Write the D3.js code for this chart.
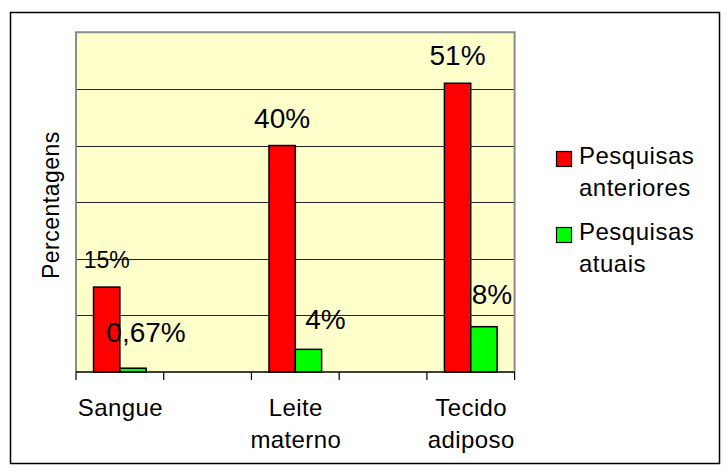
<!DOCTYPE html>
<html>
<head>
<meta charset="utf-8">
<script src="https://cdn.jsdelivr.net/npm/d3@7"></script>
<style>
  body { margin: 0; background: #fff; }
  text { font-family: "Liberation Sans", Arial, sans-serif; fill: #000; }
</style>
</head>
<body>
<svg id="chart" width="727" height="475"></svg>
<script>
// slots along the x axis, the empty ones are just spacers
var categories = ["Sangue", "", "Leite materno", "", "Tecido adiposo"];
var seriesNames = ["Pesquisas anteriores", "Pesquisas atuais"];
var anteriores = [15, null, 40, null, 51];
var atuais = [0.67, null, 4, null, 8];
var anterioresLabels = ["15%", null, "40%", null, "51%"];
var atuaisLabels = ["0,67%", null, "4%", null, "8%"];
var yTicks = [10, 20, 30, 40, 50, 60];

var colors = ["#ff0000", "#00ff00"];

// hand placed labels (as in the original sheet)
var labelStyle = [
    [{size: 23, dx: 0, dy: -19}, null, {size: 28, dx: 0, dy: -18}, null, {size: 28, dx: 0, dy: -18}],
    [{size: 28, dx: 13, dy: -26}, null, {size: 28, dx: 17, dy: -20}, null, {size: 28, dx: 8, dy: -23}]
];

var svg = d3.select("#chart");

var plot = {left: 76, right: 514.6, top: 32.3, bottom: 372};

var x = d3.scaleBand()
    .domain(d3.range(categories.length))
    .range([plot.left, plot.right])
    .padding(0);

var xs = d3.scaleBand()
    .domain([0, 1])
    .range([x.bandwidth() * 0.2, x.bandwidth() * 0.8])
    .padding(0);

var y = d3.scaleLinear().domain([0, 60]).range([plot.bottom, plot.top]);

// outer frame
svg.append("rect")
    .attr("x", 10.5).attr("y", 12.5)
    .attr("width", 709).attr("height", 451)
    .attr("fill", "none")
    .attr("stroke", "#000")
    .attr("stroke-width", 1.5);

// plot background
svg.append("rect")
    .attr("x", plot.left).attr("y", plot.top)
    .attr("width", plot.right - plot.left)
    .attr("height", plot.bottom - plot.top)
    .attr("fill", "#ffffcc");

// grid
svg.append("g")
    .selectAll("line")
    .data(yTicks.filter(function (d) { return d < 60; }))
    .join("line")
    .attr("x1", plot.left).attr("x2", plot.right)
    .attr("y1", function (d) { return Math.round(y(d)) + 0.5; })
    .attr("y2", function (d) { return Math.round(y(d)) + 0.5; })
    .attr("stroke", "#222")
    .attr("stroke-width", 1);

// gray plot border (left, top, right)
svg.append("path")
    .attr("d", "M" + plot.left + "," + plot.bottom + "V" + plot.top + "H" + plot.right + "V" + plot.bottom)
    .attr("fill", "none")
    .attr("stroke", "#8c8c8c")
    .attr("stroke-width", 2);

// bars
var series = [anteriores, atuais];
series.forEach(function (vals, si) {
    svg.append("g")
        .selectAll("rect")
        .data(vals.map(function (v, i) { return {i: i, v: v}; }).filter(function (d) { return d.v !== null; }))
        .join("rect")
        .attr("x", function (d) { return x(d.i) + xs(si); })
        .attr("y", function (d) { return y(d.v); })
        .attr("width", xs.bandwidth())
        .attr("height", function (d) { return y(0) - y(d.v); })
        .attr("fill", colors[si])
        .attr("stroke", "#000")
        .attr("stroke-width", 1.5);
});

// x axis: baseline plus ticks between the slots
var axisG = svg.append("g").attr("transform", "translate(0," + plot.bottom + ")");
axisG.append("line")
    .attr("x1", plot.left).attr("x2", plot.right)
    .attr("y1", 0).attr("y2", 0)
    .attr("stroke", "#000").attr("stroke-width", 1.5);
axisG.selectAll("line.tk")
    .data(d3.range(categories.length + 1))
    .join("line")
    .attr("class", "tk")
    .attr("x1", function (d) { return plot.left + d * x.step(); })
    .attr("x2", function (d) { return plot.left + d * x.step(); })
    .attr("y1", 0).attr("y2", 8)
    .attr("stroke", "#000").attr("stroke-width", 1.2);

// category labels
categories.forEach(function (c, i) {
    if (!c) return;
    var words = c.split(" ");
    var t = svg.append("text")
        .attr("text-anchor", "middle")
        .attr("font-size", 24)
        .attr("letter-spacing", 0.4);
    words.forEach(function (w, k) {
        t.append("tspan")
            .attr("x", x(i) + x.bandwidth() / 2 + 0.5)
            .attr("y", 416 + k * 32)
            .text(w);
    });
});

// value labels
[anterioresLabels, atuaisLabels].forEach(function (labs, si) {
    labs.forEach(function (l, i) {
        if (l === null) return;
        var st = labelStyle[si][i];
        svg.append("text")
            .attr("x", x(i) + xs(si) + xs.bandwidth() / 2 + st.dx)
            .attr("y", y(series[si][i]) + st.dy)
            .attr("text-anchor", "middle")
            .attr("font-size", st.size)
            .text(l);
    });
});

// y axis title
svg.append("text")
    .attr("transform", "translate(59," + ((plot.top + plot.bottom) / 2 + 3) + ") rotate(-90)")
    .attr("text-anchor", "middle")
    .attr("font-size", 23)
    .attr("letter-spacing", 0.5)
    .text("Percentagens");

// legend
var legend = svg.append("g");
seriesNames.forEach(function (name, si) {
    var oy = si * 76;
    legend.append("rect")
        .attr("x", 556.5).attr("y", 151.5 + oy)
        .attr("width", 15).attr("height", 15)
        .attr("fill", colors[si])
        .attr("stroke", "#000")
        .attr("stroke-width", 1.2);
    var words = name.split(" ");
    var t = legend.append("text")
        .attr("font-size", 24)
        .attr("letter-spacing", 0.5);
    words.forEach(function (w, k) {
        t.append("tspan")
            .attr("x", 579)
            .attr("y", 164 + oy + k * 31.5)
            .text(w);
    });
});
</script>
</body>
</html>
